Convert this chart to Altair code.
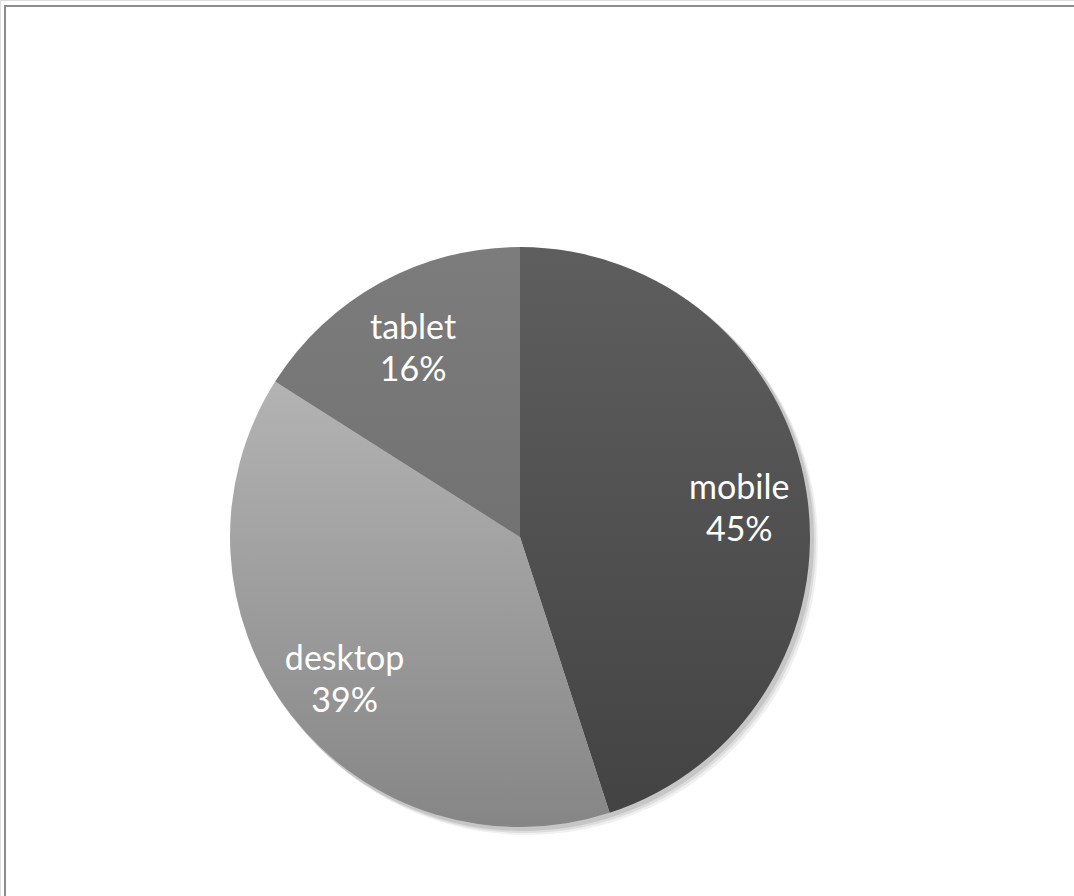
import altair as alt
import pandas as pd

categories = ["mobile", "desktop", "tablet"]
shares = [45, 39, 16]
top_colors = ["#5e5e5e", "#b3b3b3", "#7c7c7c"]
bottom_colors = ["#434343", "#868686", "#727272"]

df = pd.DataFrame({"cat": categories, "share": shares, "order": [0, 1, 2]})

CX, CY, R = 520, 537, 290

base = alt.Chart(df).transform_window(
    cum="sum(share)", sort=[alt.SortField("order")]
).transform_calculate(start="datum.cum - datum.share")

theta_scale = alt.Scale(domain=[0, 100], range=[0, 6.283185307])

def grad(c1, c2):
    return {"gradient": "linear", "x1": 0, "y1": 0, "x2": 0, "y2": 1,
            "stops": [{"offset": 0, "color": c1}, {"offset": 1, "color": c2}]}

one = pd.DataFrame({"v": [1]})

# soft shadow
shadow_layers = []
for off, op in [(7, 0.06), (5, 0.08), (3, 0.1)]:
    shadow_layers.append(
        alt.Chart(one).mark_arc(
            fill="#000000", opacity=op, radius=R + 1, theta=0, theta2=6.2832
        ).encode(x=alt.value(CX + off), y=alt.value(CY + off))
    )

slices = []
for cat, c1, c2 in zip(categories, top_colors, bottom_colors):
    slices.append(
        base.transform_filter(alt.datum.cat == cat).mark_arc(
            radius=R, fill=grad(c1, c2)
        ).encode(
            theta=alt.Theta("start:Q", scale=theta_scale),
            theta2="cum:Q",
            x=alt.value(CX), y=alt.value(CY),
        )
    )

label_base = base.transform_calculate(
    mid="(datum.start + datum.cum) / 2", pct="datum.share + '%'"
)
names = label_base.mark_text(
    radius=222, font="Lato", fontSize=34, color="white", dy=-13
).encode(
    theta=alt.Theta("mid:Q", scale=theta_scale),
    x=alt.value(CX), y=alt.value(CY),
    text="cat:N",
)
pcts = label_base.mark_text(
    radius=222, font="Lato", fontSize=34, color="white", dy=29
).encode(
    theta=alt.Theta("mid:Q", scale=theta_scale),
    x=alt.value(CX), y=alt.value(CY),
    text="pct:N",
)

border_top = alt.Chart(one).mark_rule(color="#8c8c8c", strokeWidth=2).encode(
    x=alt.value(4), x2=alt.value(1074), y=alt.value(6)
)
border_left = alt.Chart(one).mark_rule(color="#8c8c8c", strokeWidth=2).encode(
    x=alt.value(5), y=alt.value(5), y2=alt.value(896)
)

chart = alt.layer(border_top, border_left, *shadow_layers, *slices, names, pcts).properties(
    width=1074, height=896, autosize="none", padding=0
).configure_view(stroke=None).configure(background="white")

chart.save("out.html", embed_options={"renderer": "svg", "actions": False})
